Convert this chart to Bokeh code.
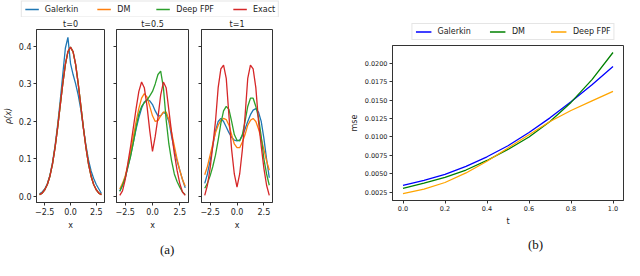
from bokeh.plotting import figure
from bokeh.models import (Range1d, FixedTicker, CustomJSTickFormatter, Legend,
                          LegendItem, Div, Spacer)
from bokeh.layouts import row, column
from bokeh.embed import file_html
from bokeh.resources import INLINE

FONT = "DejaVu Sans"

# ---------------- data: panel (a) ----------------
x_grid = [-3.0, -2.75, -2.5, -2.25, -2.0, -1.75, -1.5, -1.25, -1.0, -0.75, -0.5, -0.25,
          0.0, 0.25, 0.5, 0.75, 1.0, 1.25, 1.5, 1.75, 2.0, 2.25, 2.5, 2.75, 3.0]

times = ["t=0", "t=0.5", "t=1"]

galerkin_t0 = [0.007, 0.012, 0.020, 0.034, 0.056, 0.090, 0.135, 0.190, 0.255, 0.325, 0.395, 0.424,
               0.355, 0.325, 0.300, 0.270, 0.232, 0.182, 0.136, 0.097, 0.068, 0.048, 0.032, 0.020, 0.008]
dm_t0 = [0.005, 0.009, 0.018, 0.032, 0.054, 0.086, 0.131, 0.184, 0.243, 0.301, 0.352, 0.385,
         0.397, 0.385, 0.351, 0.300, 0.242, 0.183, 0.130, 0.086, 0.054, 0.032, 0.018, 0.009, 0.005]
fpf_t0 = [0.005, 0.009, 0.018, 0.032, 0.054, 0.086, 0.130, 0.183, 0.242, 0.300, 0.351, 0.386,
          0.398, 0.386, 0.352, 0.301, 0.243, 0.184, 0.131, 0.086, 0.054, 0.032, 0.018, 0.009, 0.005]
exact_t0 = [0.005, 0.009, 0.018, 0.032, 0.054, 0.086, 0.130, 0.183, 0.242, 0.300, 0.352, 0.386,
            0.398, 0.386, 0.352, 0.300, 0.242, 0.183, 0.130, 0.086, 0.054, 0.032, 0.018, 0.009, 0.005]

galerkin_t05 = [0.014, 0.030, 0.050, 0.080, 0.110, 0.145, 0.180, 0.210, 0.235, 0.252, 0.258, 0.255,
                0.245, 0.228, 0.215, 0.215, 0.224, 0.220, 0.200, 0.160, 0.125, 0.095, 0.070, 0.045, 0.023]
dm_t05 = [0.020, 0.035, 0.055, 0.085, 0.120, 0.160, 0.200, 0.235, 0.262, 0.274, 0.265, 0.240,
          0.215, 0.200, 0.202, 0.215, 0.225, 0.225, 0.205, 0.170, 0.135, 0.100, 0.070, 0.045, 0.027]
fpf_t05 = [0.014, 0.030, 0.050, 0.080, 0.108, 0.145, 0.185, 0.220, 0.240, 0.250, 0.257, 0.268,
           0.280, 0.300, 0.325, 0.334, 0.290, 0.205, 0.140, 0.095, 0.060, 0.040, 0.025, 0.012, 0.005]
exact_t05 = [0.003, 0.015, 0.045, 0.090, 0.135, 0.185, 0.235, 0.280, 0.305, 0.290, 0.240, 0.175,
             0.120, 0.160, 0.210, 0.270, 0.305, 0.290, 0.230, 0.170, 0.115, 0.070, 0.035, 0.012, 0.003]

galerkin_t1 = [0.035, 0.060, 0.095, 0.135, 0.175, 0.200, 0.208, 0.200, 0.185, 0.170, 0.158, 0.150,
               0.148, 0.150, 0.162, 0.180, 0.200, 0.218, 0.230, 0.234, 0.225, 0.200, 0.155, 0.100, 0.050]
dm_t1 = [0.058, 0.080, 0.110, 0.140, 0.170, 0.190, 0.203, 0.208, 0.205, 0.190, 0.165, 0.140,
         0.130, 0.130, 0.145, 0.165, 0.190, 0.203, 0.208, 0.200, 0.180, 0.155, 0.125, 0.095, 0.070]
fpf_t1 = [0.022, 0.035, 0.055, 0.080, 0.110, 0.150, 0.195, 0.228, 0.240, 0.232, 0.200, 0.165,
          0.150, 0.148, 0.165, 0.200, 0.240, 0.262, 0.262, 0.240, 0.210, 0.160, 0.100, 0.060, 0.030]
exact_t1 = [0.003, 0.030, 0.075, 0.135, 0.200, 0.290, 0.340, 0.350, 0.315, 0.215, 0.125, 0.060,
            0.025, 0.060, 0.125, 0.215, 0.315, 0.350, 0.340, 0.290, 0.200, 0.135, 0.075, 0.030, 0.003]

a_names = ["Galerkin", "DM", "Deep FPF", "Exact"]
a_colors = ["#1f77b4", "#ff7f0e", "#2ca02c", "#d62728"]
a_series = [
    [galerkin_t0, dm_t0, fpf_t0, exact_t0],
    [galerkin_t05, dm_t05, fpf_t05, exact_t05],
    [galerkin_t1, dm_t1, fpf_t1, exact_t1],
]
a_yticks = [0.0, 0.1, 0.2, 0.3, 0.4]
a_xticks = [-2.5, 0.0, 2.5]

# ---------------- data: panel (b) ----------------
t_vals = [0.0, 0.1, 0.2, 0.3, 0.4, 0.5, 0.6, 0.7, 0.8, 0.9, 1.0]
galerkin_mse = [0.0034, 0.0041, 0.0049, 0.0060, 0.0073, 0.0088, 0.0106, 0.0126, 0.0148, 0.0171, 0.0196]
dm_mse = [0.0030, 0.0037, 0.0045, 0.0055, 0.0068, 0.0083, 0.0100, 0.0121, 0.0147, 0.0178, 0.0215]
fpf_mse = [0.0023, 0.0029, 0.0038, 0.0051, 0.0067, 0.0085, 0.0103, 0.0121, 0.0136, 0.0149, 0.0162]
b_names = ["Galerkin", "DM", "Deep FPF"]
b_colors = ["blue", "green", "orange"]
b_series = [galerkin_mse, dm_mse, fpf_mse]
b_yticks = [0.0025, 0.0050, 0.0075, 0.0100, 0.0125, 0.0150, 0.0175, 0.0200]
b_xticks = [0.0, 0.2, 0.4, 0.6, 0.8, 1.0]

MINUS = "\u2212"
EDGE = "#333333"
TXT = "#222222"


def fmt(decimals):
    return CustomJSTickFormatter(
        code="return tick.toFixed(%d).replace('-', '%s');" % (decimals, MINUS))


def style(p, tick_fs, label_fs):
    p.grid.visible = False
    p.outline_line_color = EDGE
    p.outline_line_width = 1
    p.background_fill_color = "white"
    p.border_fill_color = "white"
    for ax in p.axis:
        ax.axis_line_color = EDGE
        ax.major_tick_line_color = EDGE
        ax.major_tick_out = 3
        ax.major_tick_in = 0
        ax.minor_tick_out = 0
        ax.minor_tick_in = 0
        ax.major_label_text_font = FONT
        ax.major_label_text_font_size = tick_fs
        ax.major_label_text_color = TXT
        ax.major_label_standoff = 2
        ax.axis_label_text_font = FONT
        ax.axis_label_text_font_size = label_fs
        ax.axis_label_text_font_style = "normal"
        ax.axis_label_text_color = TXT
        ax.axis_label_standoff = 3


def make_legend(items, location, glyph_w, spacing, padding, margin):
    return Legend(items=items, orientation="horizontal", location=location,
                  glyph_width=glyph_w, glyph_height=9, label_height=9, label_standoff=6,
                  spacing=spacing, padding=padding, margin=margin,
                  label_text_font=FONT, label_text_font_size="8px", label_text_color=TXT,
                  label_text_baseline="middle",
                  border_line_color="#cccccc", border_line_width=1,
                  background_fill_color="white", background_fill_alpha=1)


def legend_strip(names, colors, width, height, location, glyph_w, spacing, padding, margin):
    f = figure(width=width, height=height, x_range=Range1d(0, 1), y_range=Range1d(0, 1),
               output_backend="svg", toolbar_location=None, min_border=0,
               x_axis_location=None, y_axis_location=None)
    f.outline_line_color = None
    f.grid.visible = False
    items = []
    for name, col in zip(names, colors):
        # legend-key renderer only; its points lie outside the visible range
        r = f.line([-5, -4], [-5, -4], line_color=col, line_width=1.3)
        items.append(LegendItem(label=name, renderers=[r]))
    f.add_layout(make_legend(items, location, glyph_w, spacing, padding, margin), "center")
    return f


# ---------------- legend strip for (a) ----------------
leg_fig = legend_strip(a_names, a_colors, 300, 17, "center", 14, 19, 3, 0)

# ---------------- three panels of (a) ----------------
panel_geom = [  # (width, min_border_left, min_border_right)
    (110, 34, 6),
    (84, 6, 6),
    (128, 7, 50),
]
panels = []
for i, (title, series) in enumerate(zip(times, a_series)):
    w, bl, br = panel_geom[i]
    p = figure(width=w, height=216, title=title,
               x_range=Range1d(-3.3, 3.3), y_range=Range1d(-0.016, 0.445),
               output_backend="svg", toolbar_location=None,
               min_border_left=bl, min_border_right=br,
               min_border_top=11, min_border_bottom=31)
    p.title.align = "center"
    p.title.text_font = FONT
    p.title.text_font_size = "8px"
    p.title.text_font_style = "normal"
    p.title.text_color = TXT
    p.title.standoff = 1
    for ys, col in zip(series, a_colors):
        p.line(x_grid, ys, line_color=col, line_width=1.3)
    style(p, "8px", "8px")
    p.xaxis.ticker = FixedTicker(ticks=a_xticks)
    p.xaxis.formatter = fmt(1)
    p.xaxis.axis_label = "x"
    p.yaxis.ticker = FixedTicker(ticks=a_yticks)
    if i == 0:
        p.yaxis.formatter = fmt(1)
        p.yaxis.axis_label = "\u03c1(x)"
        p.yaxis.axis_label_text_font_style = "italic"
    else:
        p.yaxis.formatter = CustomJSTickFormatter(code="return '';")
    panels.append(p)

div_a = Div(text='<div style="padding-left:160px;padding-top:9px;font-family:\'Liberation Serif\';'
                 'font-size:13px;line-height:16px;color:#111">(a)</div>',
            width=322, height=27, margin=(0, 0, 0, 0))

left = column(leg_fig, row(*panels, spacing=0), div_a, spacing=0)

# ---------------- (b) ----------------
leg_fig_b = legend_strip(b_names, b_colors, 222, 43, "bottom_center", 16, 19, 3, 3)
pb = figure(width=302, height=185,
            x_range=Range1d(-0.05, 1.05), y_range=Range1d(0.00135, 0.02245),
            output_backend="svg", toolbar_location=None,
            min_border_left=70, min_border_right=1, min_border_top=2, min_border_bottom=27)
for ys, col in zip(b_series, b_colors):
    pb.line(t_vals, ys, line_color=col, line_width=1.3)
style(pb, "6.5px", "8px")
pb.xaxis.ticker = FixedTicker(ticks=b_xticks)
pb.xaxis.formatter = fmt(1)
pb.xaxis.axis_label = "t"
pb.yaxis.ticker = FixedTicker(ticks=b_yticks)
pb.yaxis.formatter = fmt(4)
pb.yaxis.axis_label = "mse"

div_b = Div(text='<div style="padding-left:206px;padding-top:9px;font-family:\'Liberation Serif\';'
                 'font-size:13px;line-height:16px;color:#111">(b)</div>',
            width=302, height=27, margin=(0, 0, 0, 0))
right = column(row(Spacer(width=80, height=43), leg_fig_b, spacing=0), pb, div_b, spacing=0)

layout = row(left, right, spacing=0)

open("out.html", "w").write(file_html(layout, INLINE))
